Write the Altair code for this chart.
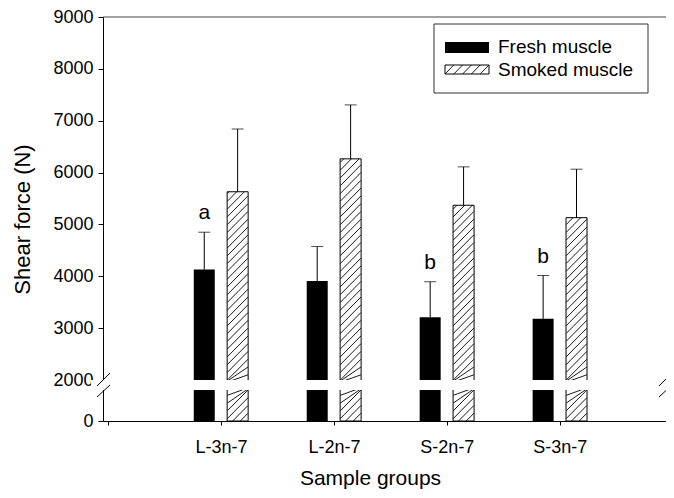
import altair as alt
import pandas as pd

# ---------------- data ----------------
groups = ["L-3n-7", "L-2n-7", "S-2n-7", "S-3n-7"]
series = ["Fresh muscle", "Smoked muscle"]
fresh_mean = [4130, 3910, 3210, 3180]
fresh_upper = [4850, 4575, 3895, 4015]
smoked_mean = [5630, 6265, 5370, 5130]
smoked_upper = [6840, 7305, 6110, 6065]
letters = ["a", "", "b", "b"]
y_ticks = [0, 2000, 3000, 4000, 5000, 6000, 7000, 8000, 9000]
x_title = "Sample groups"
y_title = "Shear force (N)"

# ---------------- layout constants ----------------
W = 563
H = 404
STEP = 115.0           # px per group on the x scale
OFF = 17.0 / STEP      # bar centre offset from group centre
BAR_W = 21
BW = BAR_W / STEP      # bar width in x units
R = 403                # hatch rise across one bar (y units)
HSTEP = 150            # hatch spacing (y units)
FONT = "Liberation Sans"

rows = []
for i, g in enumerate(groups):
    rows.append(dict(group=g, idx=i + 1, series=series[0], mean=fresh_mean[i],
                     upper=fresh_upper[i], letter=letters[i]))
    rows.append(dict(group=g, idx=i + 1, series=series[1], mean=smoked_mean[i],
                     upper=smoked_upper[i], letter=""))
df = pd.DataFrame(rows)

xscale = alt.Scale(domain=[0, W / STEP], nice=False, zero=False)
yscale = alt.Scale(domain=[0, 600, 2000, 9000], range=[H, H - 31, H - 41, 0],
                   nice=False, zero=False)

label_list = "[''," + ",".join("'%s'" % g for g in groups) + "]"

x_axis = alt.Axis(values=[0, 1, 2, 3, 4], labelExpr=label_list + "[datum.value]",
                  tickSize=4, labelPadding=13, labelFontSize=18, labelFont=FONT,
                  title=x_title, titleFontSize=21, titleFont=FONT, titlePadding=11,
                  titleFontWeight="normal", titleX=267, grid=False,
                  domainColor="black", tickColor="black", labelColor="black",
                  titleColor="black", labelFlush=False, labelOverlap=False)
y_axis = alt.Axis(values=y_ticks, format="d", tickSize=5, labelPadding=5,
                  labelFontSize=18, labelFont=FONT, title=y_title, titleFontSize=22,
                  titleFont=FONT, titlePadding=18, titleFontWeight="normal", grid=False,
                  domainColor="black", tickColor="black", labelColor="black",
                  titleColor="black", labelOverlap=False)


def X(field):
    return alt.X(field, scale=xscale, axis=x_axis)


def Y(field):
    return alt.Y(field, scale=yscale, axis=y_axis)


base = alt.Chart(df).transform_calculate(
    xpos="datum.idx + (datum.series == '%s' ? %f : %f)" % (series[0], -OFF, OFF)
)

fresh = base.transform_filter("datum.series == '%s'" % series[0]).mark_bar(
    width=BAR_W, color="black"
).encode(x=X("xpos:Q"), y=Y("mean:Q"), y2=alt.datum(0))

smoked = base.transform_filter("datum.series == '%s'" % series[1]).mark_bar(
    width=BAR_W, fill="white", stroke="black", strokeWidth=1
).encode(x=X("xpos:Q"), y=Y("mean:Q"), y2=alt.datum(0))

hatch = alt.Chart(df).transform_filter(
    "datum.series == '%s'" % series[1]
).transform_calculate(
    xl="datum.idx + %f - %f" % (OFF, BW / 2),
    ks="sequence(-%d, datum.mean, %d)" % (R, HSTEP),
).transform_flatten(["ks"]).transform_calculate(
    y1="max(datum.ks, 0)",
    y2="min(datum.ks + %d, datum.mean)" % R,
).transform_filter("datum.y2 > datum.y1").transform_calculate(
    x1="datum.xl + (datum.y1 - datum.ks) / %d * %f" % (R, BW),
    x2="datum.xl + (datum.y2 - datum.ks) / %d * %f" % (R, BW),
).mark_rule(color="black", strokeWidth=0.9).encode(
    x=X("x1:Q"), x2="x2:Q", y=Y("y1:Q"), y2="y2:Q",
)

err = base.mark_rule(color="black", strokeWidth=1).encode(
    x=X("xpos:Q"), y=Y("mean:Q"), y2="upper:Q",
)
cap = base.mark_tick(orient="horizontal", size=12, thickness=1, color="black").encode(
    x=X("xpos:Q"), y=Y("upper:Q"),
)
txt = base.transform_filter("datum.letter != ''").mark_text(
    fontSize=21, font=FONT, baseline="alphabetic", dy=-13, color="black"
).encode(x=X("xpos:Q"), y=Y("upper:Q"), text="letter:N")

one = alt.Data(values=[{}])

# axis break: white gap across the plot, with slashes on both sides
gap = alt.Chart(one).mark_rect(color="white").encode(
    x=alt.value(-12), x2=alt.value(W + 12),
    y=alt.Y(datum=600, scale=yscale, axis=y_axis), y2=alt.datum(2000),
)
slashes = []
for x0 in (0, W - 1):
    for (ya, yb) in ((H - 35, H - 48), (H - 24, H - 36)):
        slashes.append(alt.Chart(one).mark_rule(color="black", strokeWidth=1).encode(
            x=alt.value(x0 - 6), x2=alt.value(x0 + 7),
            y=alt.value(ya), y2=alt.value(yb)))

top_line = alt.Chart(one).mark_rule(color="#444444", strokeWidth=1).encode(
    x=alt.value(0), x2=alt.value(W + 10),
    y=alt.Y(datum=9000, scale=yscale, axis=y_axis),
)

# legend drawn by hand (hatched swatch)
LT = 7  # legend top, px inside the plot
leg = [
    alt.Chart(one).mark_rect(fill="white", stroke="#333333", strokeWidth=1).encode(
        x=alt.value(331), x2=alt.value(545), y=alt.value(LT), y2=alt.value(LT + 69)),
    alt.Chart(one).mark_rect(fill="black").encode(
        x=alt.value(342), x2=alt.value(386), y=alt.value(LT + 18), y2=alt.value(LT + 29)),
    alt.Chart(one).mark_rect(fill="white", stroke="black", strokeWidth=1).encode(
        x=alt.value(342), x2=alt.value(386), y=alt.value(LT + 41), y2=alt.value(LT + 50)),
    alt.Chart(one).mark_text(fontSize=19, font=FONT, align="left", baseline="alphabetic",
                             color="black").encode(
        x=alt.value(395), y=alt.value(LT + 29), text=alt.value(series[0])),
    alt.Chart(one).mark_text(fontSize=19, font=FONT, align="left", baseline="alphabetic",
                             color="black").encode(
        x=alt.value(395), y=alt.value(LT + 52), text=alt.value(series[1])),
]
for i in range(5):
    xa = 342 + 8.8 * i
    leg.append(alt.Chart(one).mark_rule(color="black", strokeWidth=0.9).encode(
        x=alt.value(xa), x2=alt.value(xa + 8.8),
        y=alt.value(LT + 50), y2=alt.value(LT + 41)))

chart = alt.layer(
    fresh, smoked, hatch, err, cap, txt, gap, top_line, *slashes, *leg
).properties(
    width=W, height=H,
    autosize=alt.AutoSizeParams(type="none"),
    padding={"left": 95, "top": 9, "right": 0, "bottom": 68},
).configure(font=FONT, background="white").configure_view(stroke=None)

chart.save("out.html", embed_options={"renderer": "svg", "actions": False})
